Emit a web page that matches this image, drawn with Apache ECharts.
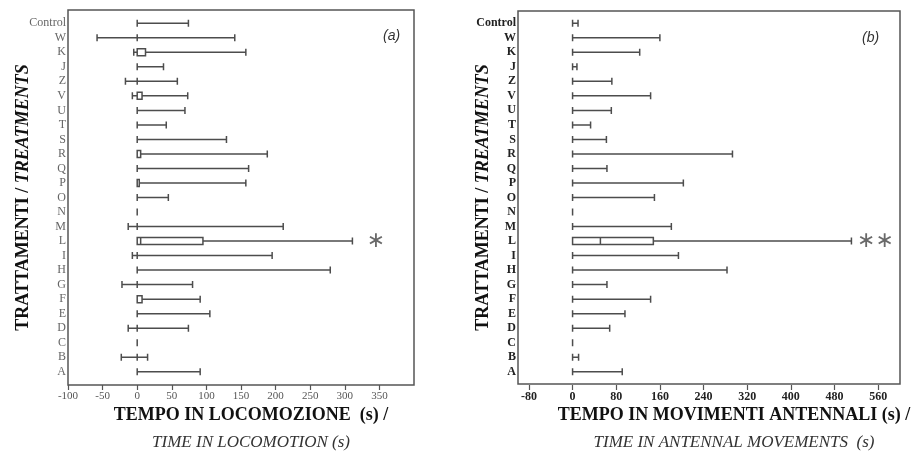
<!DOCTYPE html>
<html><head><meta charset="utf-8">
<script src="https://cdn.jsdelivr.net/npm/echarts@6/dist/echarts.min.js"></script>
<style>html,body{margin:0;padding:0;background:#fff}#c{width:924px;height:466px}</style>
</head><body><div id="c"></div>
<script>
const categories = ['Control','W','K','J','Z','V','U','T','S','R','Q','P','O','N','M','L','I','H','G','F','E','D','C','B','A'];
// [min, Q1, median, Q3, max] — time in locomotion (s)
const locomotion = [
 [0,0,0,0,74],[-58,0,0,0,141],[-5,0,0,12,157],[0,0,0,0,38],[-17,0,0,0,58],
 [-7,0,0,7,73],[0,0,0,0,69],[0,0,0,0,42],[0,0,0,0,129],[0,0,0,5,188],
 [0,0,0,0,161],[0,0,0,3,157],[0,0,0,0,45],[0,0,0,0,0],[-13,0,0,0,211],
 [0,0,5,95,311],[-7,0,0,0,195],[0,0,0,0,279],[-22,0,0,0,80],[0,0,0,7,91],
 [0,0,0,0,105],[-13,0,0,0,74],[0,0,0,0,0],[-23,0,0,0,15],[0,0,0,0,91]
];
// [min, Q1, median, Q3, max] — time in antennal movements (s)
const antennal = [
 [0,0,0,0,10],[0,0,0,0,160],[0,0,0,0,123],[0,0,0,0,8],[0,0,0,0,72],
 [0,0,0,0,143],[0,0,0,0,71],[0,0,0,0,33],[0,0,0,0,62],[0,0,0,0,293],
 [0,0,0,0,63],[0,0,0,0,203],[0,0,0,0,150],[0,0,0,0,0],[0,0,0,0,181],
 [0,0,51,148,511],[0,0,0,0,194],[0,0,0,0,283],[0,0,0,0,63],[0,0,0,0,143],
 [0,0,0,0,96],[0,0,0,0,68],[0,0,0,0,0],[0,0,0,0,11],[0,0,0,0,91]
];
const locoTicks = [-100,-50,0,50,100,150,200,250,300,350];
const antTicks = [-80,0,80,160,240,320,400,480,560];
const locoSig = [[345,'L']];
const locoSigLabel = '∗';
const antSig = [[555,'L']];
const antSigLabel = '∗∗';

const chart = echarts.init(document.getElementById('c'));
const serif = 'Liberation Serif';
const lineCol = '#4d4d4d';

function yAxisCfg(idx, bold, gap){
  return {
    type:'category', gridIndex:idx, data:categories, inverse:true,
    axisLine:{show:false}, axisTick:{show:false},
    axisLabel:{interval:0, margin:2, fontFamily:serif, fontSize:12,
      fontWeight: bold?'bold':'normal', color: bold?'#222':'#666'},
    name:'{b|TRATTAMENTI / }{i|TREATMENTS}', nameLocation:'middle', nameGap:gap,
    nameMoveOverlap:false,
    nameTextStyle:{rich:{
      b:{fontFamily:serif,fontWeight:'bold',fontSize:18,color:'#111'},
      i:{fontFamily:serif,fontWeight:'bold',fontStyle:'italic',fontSize:18,color:'#111'}}}
  };
}
function xAxisCfg(idx, min, max, ticks, bold, name1, name2, shift){
  return {
    type:'value', gridIndex:idx, min:min, max:max, offset:6,
    splitLine:{show:false},
    axisLine:{show:false},
    axisTick:{show:true, length:5, customValues:ticks, lineStyle:{color:'#555',width:1.2}},
    axisLabel:{customValues:ticks, margin:6, fontFamily:serif, fontSize: bold?12:11,
      fontWeight: bold?'bold':'normal', color: bold?'#222':'#555'},
    name:'{b|'+name1+'}\n{i|'+name2+'}', nameLocation:'middle', nameGap:16,
    nameMoveOverlap:false,
    nameTextStyle:{align:'center', padding:[0,0,0,shift], rich:{
      b:{fontFamily:serif,fontWeight:'bold',fontSize:18,color:'#111',lineHeight:28,align:'center'},
      i:{fontFamily:serif,fontStyle:'italic',fontSize:17,color:'#333',lineHeight:28,align:'center'}}}
  };
}
function boxSeries(idx, data){
  return {type:'boxplot', xAxisIndex:idx, yAxisIndex:idx, data:data,
    boxWidth:[7,7], itemStyle:{color:'#fff', borderColor:lineCol, borderWidth:1.5},
    emphasis:{disabled:true}, silent:true};
}
function sigSeries(idx, data, label){
  return {type:'scatter', xAxisIndex:idx, yAxisIndex:idx, data:data, symbolSize:1,
    itemStyle:{color:'rgba(0,0,0,0)'}, silent:true,
    label:{show:true, position:'inside', formatter:label, fontFamily:'DejaVu Sans',
      fontSize:22, color:'#444'}};
}

chart.setOption({
  animation:false,
  backgroundColor:'#fff',
  grid:[
    {left:68, right:924-414, top:16, bottom:87},
    {left:518, right:924-900, top:16, bottom:87}
  ],
  xAxis:[
    xAxisCfg(0,-100,400,locoTicks,false,'TEMPO IN LOCOMOZIONE  (s) /','TIME IN LOCOMOTION (s)',20),
    xAxisCfg(1,-100,600,antTicks,true,'TEMPO IN MOVIMENTI ANTENNALI (s) /','TIME IN ANTENNAL MOVEMENTS  (s)',50)
  ],
  yAxis:[yAxisCfg(0,false,36), yAxisCfg(1,true,26)],
  title:[
    {text:'(a)', left:378, top:24, textStyle:{fontFamily:'Liberation Sans',fontStyle:'italic',fontWeight:'normal',fontSize:14,color:'#333'}},
    {text:'(b)', left:857, top:26, textStyle:{fontFamily:'Liberation Sans',fontStyle:'italic',fontWeight:'normal',fontSize:14,color:'#333'}}
  ],
  graphic:[
    {type:'rect', shape:{x:68,y:10,width:346,height:375}, style:{fill:'none',stroke:'#555',lineWidth:1.5}, silent:true},
    {type:'rect', shape:{x:518,y:11,width:382,height:373}, style:{fill:'none',stroke:'#555',lineWidth:1.5}, silent:true}
  ],
  series:[
    boxSeries(0, locomotion),
    boxSeries(1, antennal),
    sigSeries(0, locoSig, locoSigLabel),
    sigSeries(1, antSig, antSigLabel)
  ]
});
</script></body></html>
